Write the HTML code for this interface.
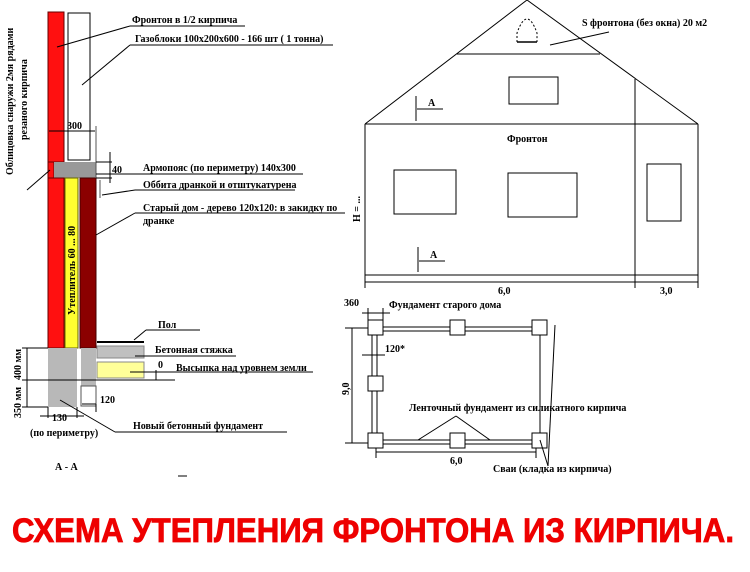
<!DOCTYPE html>
<html><head><meta charset="utf-8"><style>
html,body{margin:0;padding:0;background:#fff;}
svg{display:block}
text{font-family:"Liberation Serif","DejaVu Serif",serif;font-weight:bold;font-size:10px;fill:#000}
</style></head><body>
<svg width="750" height="572" viewBox="0 0 750 572" xmlns="http://www.w3.org/2000/svg">
<g stroke="#000" stroke-width="1" fill="none">
<rect x="48" y="12" width="16" height="150" fill="#ff1010" stroke="#600"/>
<rect x="68" y="13" width="22" height="147" fill="#fff"/>
<rect x="48" y="162" width="6" height="16" fill="#ff1010" stroke="#600"/>
<rect x="54" y="162" width="42" height="16" fill="#999" stroke="none"/>
<rect x="48" y="178" width="16" height="170" fill="#ff1010" stroke="#600"/>
<rect x="65" y="178" width="13" height="170" fill="#ffff30" stroke="#660"/>
<rect x="80" y="178" width="16" height="170" fill="#8b0000" stroke="#400"/>
<rect x="48" y="348" width="29" height="59" fill="#b8b8b8" stroke="none"/>
<rect x="81" y="348" width="15" height="38" fill="#b8b8b8" stroke="none"/>
<rect x="81" y="386" width="15" height="20" fill="#fff" stroke="#555"/>
<line x1="97" y1="342" x2="144" y2="342" stroke-width="2"/>
<rect x="97" y="346" width="47" height="12" fill="#c0c0c0" stroke="#888"/>
<rect x="97" y="362" width="47" height="16" fill="#ffff99" stroke="#888"/>
<line x1="22" y1="380" x2="175" y2="380"/>
<line x1="22" y1="348" x2="48" y2="348"/>
<line x1="22" y1="407" x2="48" y2="407"/>
<line x1="27" y1="348" x2="27" y2="407"/>
<line x1="48" y1="407" x2="48" y2="418"/><line x1="77" y1="407" x2="77" y2="418"/>
<line x1="40" y1="416" x2="84" y2="416"/>
<line x1="82" y1="404" x2="96" y2="404"/><line x1="96" y1="404" x2="96" y2="412"/>
<line x1="49" y1="131" x2="95" y2="131"/>
<line x1="96" y1="126" x2="96" y2="178" stroke="#555"/>
<line x1="110" y1="152" x2="110" y2="183"/>
<line x1="96" y1="162" x2="112" y2="162"/><line x1="96" y1="178" x2="112" y2="178"/>
<line x1="100" y1="180" x2="100" y2="198" stroke="#555"/>
<line x1="96" y1="174" x2="303" y2="174"/>
<line x1="57" y1="47" x2="130" y2="26"/><line x1="130" y1="26" x2="245" y2="26"/>
<line x1="82" y1="85" x2="130" y2="45"/><line x1="130" y1="45" x2="333" y2="45"/>
<line x1="27" y1="190" x2="50" y2="170"/>
<line x1="102" y1="195" x2="135" y2="190"/><line x1="135" y1="190" x2="295" y2="190"/>
<line x1="96" y1="235" x2="135" y2="213"/><line x1="135" y1="213" x2="345" y2="213"/>
<line x1="134" y1="340" x2="146" y2="330"/><line x1="146" y1="330" x2="200" y2="330"/>
<line x1="135" y1="356" x2="150" y2="356"/><line x1="150" y1="356" x2="236" y2="356"/>
<line x1="130" y1="372" x2="160" y2="372"/><line x1="160" y1="372" x2="313" y2="372"/>
<line x1="156" y1="370" x2="156" y2="380"/>
<line x1="60" y1="400" x2="115" y2="432"/><line x1="115" y1="432" x2="287" y2="432"/>
<polyline points="365,124 527,0 698,124"/>
<line x1="457" y1="54" x2="600" y2="54"/>
<line x1="365" y1="124" x2="698" y2="124"/>
<line x1="365" y1="124" x2="365" y2="288"/>
<line x1="698" y1="124" x2="698" y2="288"/>
<line x1="635" y1="79" x2="635" y2="288"/>
<line x1="365" y1="275" x2="698" y2="275"/>
<line x1="365" y1="282" x2="698" y2="282"/>
<rect x="509" y="77" width="49" height="27"/>
<rect x="394" y="170" width="62" height="44"/>
<rect x="508" y="173" width="69" height="44"/>
<rect x="647" y="164" width="34" height="57"/>
<path d="M517,42 L517,33 Q527,5 537,33 L537,42" stroke-dasharray="2,2"/>
<line x1="517" y1="42" x2="537" y2="42" stroke-width="1.5"/>
<line x1="550" y1="45" x2="609" y2="32"/>
<line x1="416" y1="96" x2="416" y2="121"/><line x1="417" y1="109" x2="443" y2="109"/>
<line x1="418" y1="247" x2="418" y2="272"/><line x1="419" y1="261" x2="445" y2="261"/>
<line x1="383" y1="327" x2="532" y2="327"/><line x1="383" y1="331" x2="532" y2="331"/>
<line x1="383" y1="440" x2="532" y2="440"/><line x1="383" y1="444" x2="532" y2="444"/>
<line x1="372" y1="335" x2="372" y2="433"/><line x1="377" y1="335" x2="377" y2="433"/>
<line x1="540" y1="335" x2="540" y2="433"/>
<g fill="#fff">
<rect x="368" y="320" width="15" height="15"/><rect x="450" y="320" width="15" height="15"/><rect x="532" y="320" width="15" height="15"/>
<rect x="368" y="376" width="15" height="15"/>
<rect x="368" y="433" width="15" height="15"/><rect x="450" y="433" width="15" height="15"/><rect x="532" y="433" width="15" height="15"/>
</g>
<line x1="352" y1="328" x2="352" y2="443"/>
<line x1="345" y1="328" x2="368" y2="328"/><line x1="345" y1="443" x2="368" y2="443"/>
<line x1="376" y1="452" x2="536" y2="452"/><line x1="376" y1="448" x2="376" y2="458"/><line x1="536" y1="448" x2="536" y2="458"/>
<line x1="368" y1="308" x2="368" y2="320"/><line x1="383" y1="308" x2="383" y2="320"/>
<line x1="362" y1="313" x2="390" y2="313"/>
<line x1="362" y1="355" x2="385" y2="355"/>
<line x1="456" y1="416" x2="418" y2="440"/><line x1="456" y1="416" x2="490" y2="440"/>
<line x1="548" y1="466" x2="540" y2="440"/><line x1="548" y1="466" x2="555" y2="325"/>
<line x1="178" y1="476" x2="187" y2="476"/>
</g>
<text x="132" y="23">Фронтон в 1/2 кирпича</text>
<text x="135" y="42">Газоблоки 100х200х600 - 166 шт ( 1 тонна)</text>
<text x="67" y="129">300</text>
<text x="112" y="173">40</text>
<text x="143" y="171">Армопояс (по периметру) 140х300</text>
<text x="143" y="188">Оббита дранкой и отштукатурена</text>
<text x="143" y="211">Старый дом - дерево 120х120: в закидку по</text>
<text x="143" y="224">дранке</text>
<text x="158" y="328">Пол</text>
<text x="155" y="353">Бетонная стяжка</text>
<text x="158" y="368">0</text>
<text x="176" y="371">Высыпка над уровнем земли</text>
<text x="100" y="403">120</text>
<text x="52" y="421">130</text>
<text x="30" y="436">(по периметру)</text>
<text x="133" y="429">Новый бетонный фундамент</text>
<text x="55" y="470">А - А</text>
<text transform="translate(13,175) rotate(-90)">Облицовка снаружи 2мя рядами</text>
<text transform="translate(27,140) rotate(-90)">резаного кирпича</text>
<text transform="translate(75,315) rotate(-90)">Утеплитель 60 ... 80</text>
<text transform="translate(21,380) rotate(-90)">400 мм</text>
<text transform="translate(21,418) rotate(-90)">350 мм</text>
<text x="582" y="26">S фронтона (без окна) 20 м2</text>
<text x="428" y="106">А</text>
<text x="430" y="258">А</text>
<text x="507" y="142">Фронтон</text>
<text transform="translate(360,222) rotate(-90)">Н = ...</text>
<text x="498" y="294">6,0</text>
<text x="660" y="294">3,0</text>
<text x="344" y="306">360</text>
<text x="389" y="308">Фундамент старого дома</text>
<text x="385" y="352">120*</text>
<text transform="translate(349,395) rotate(-90)">9,0</text>
<text x="409" y="411">Ленточный фундамент из силикатного кирпича</text>
<text x="450" y="464">6,0</text>
<text x="493" y="472">Сваи (кладка из кирпича)</text>
<text x="12" y="542" textLength="722" lengthAdjust="spacingAndGlyphs" style="font-family:'Liberation Sans',sans-serif;font-size:34px;fill:#ee0000;stroke:#ee0000;stroke-width:0.8">СХЕМА УТЕПЛЕНИЯ ФРОНТОНА ИЗ КИРПИЧА.</text>
</svg>
</body></html>
